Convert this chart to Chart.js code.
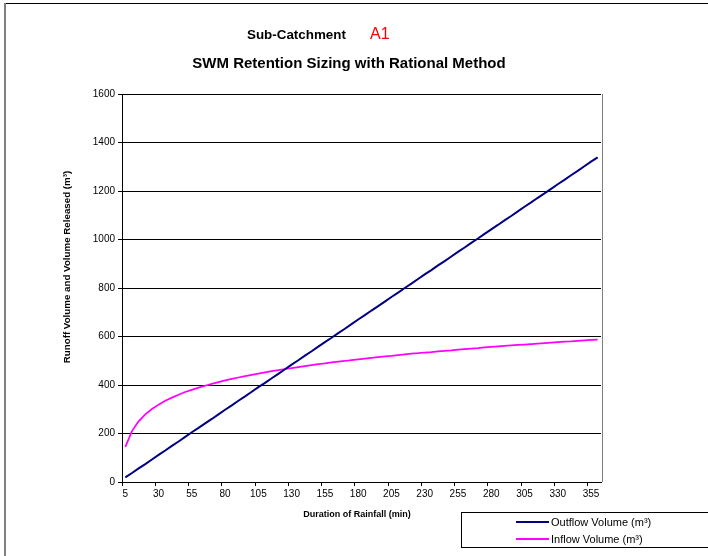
<!DOCTYPE html>
<html>
<head>
<meta charset="utf-8">
<script src="https://cdn.jsdelivr.net/npm/chart.js@4.4.0/dist/chart.umd.min.js"></script>
<style>
  html, body { margin: 0; padding: 0; background: #fff; }
  #wrap { width: 708px; height: 556px; position: relative; }
</style>
</head>
<body>
<div id="wrap"><canvas id="c" width="708" height="556"></canvas></div>
<script>
// Duration of rainfall (min)
const durations = [5,10,15,20,25,30,35,40,45,50,55,60,65,70,75,80,85,90,95,100,
  105,110,115,120,125,130,135,140,145,150,155,160,165,170,175,180,185,190,195,200,
  205,210,215,220,225,230,235,240,245,250,255,260,265,270,275,280,285,290,295,300,
  305,310,315,320,325,330,335,340,345,350,355,360];

// Outflow volume (m³)
const outflowVolume = [19,37,56,74,93,112,130,149,167,186,205,223,242,260,279,298,316,335,353,372,
  391,409,428,446,465,484,502,521,539,558,577,595,614,632,651,670,688,707,725,744,
  763,781,800,818,837,856,874,893,911,930,949,967,986,1004,1023,1042,1060,1079,1097,1116,
  1135,1153,1172,1190,1209,1228,1246,1265,1283,1302,1321,1339];

// Inflow volume (m³)
const inflowVolume = [145,210,250,279,301,319,335,348,360,371,380,389,397,405,412,419,425,431,437,442,
  447,452,457,461,466,470,474,478,482,486,489,493,496,499,503,506,509,512,515,518,
  520,523,526,529,531,534,536,539,541,543,546,548,550,552,555,557,559,561,563,565,
  567,569,571,573,575,577,579,580,582,584,586,587];

const yTicks = [0,200,400,600,800,1000,1200,1400,1600];

const seriesNames = ['Outflow Volume (m³)', 'Inflow Volume (m³)'];
const seriesColors = ['#000080', '#FF00FF'];

const FONT = '"Liberation Sans", Arial, sans-serif';

const decorPlugin = {
  id: 'decor',
  beforeDraw(chart) {
    const ctx = chart.ctx;
    ctx.save();
    ctx.fillStyle = '#fff';
    ctx.fillRect(0, 0, chart.width, chart.height);
    ctx.restore();
  },
  afterDraw(chart) {
    const ctx = chart.ctx;
    const a = chart.chartArea;
    ctx.save();
    // plot area right border (gray)
    ctx.strokeStyle = '#808080';
    ctx.lineWidth = 1;
    ctx.beginPath();
    ctx.moveTo(Math.round(a.right) + 1.5, a.top);
    ctx.lineTo(Math.round(a.right) + 1.5, a.bottom);
    ctx.stroke();

    // outer border (top & left)
    ctx.strokeStyle = '#000';
    ctx.lineWidth = 1;
    ctx.beginPath();
    ctx.moveTo(4, 3.5);
    ctx.lineTo(708, 3.5);
    ctx.stroke();
    ctx.strokeStyle = '#808080';
    ctx.lineWidth = 2;
    ctx.beginPath();
    ctx.moveTo(5, 3);
    ctx.lineTo(5, 556);
    ctx.stroke();

    // Titles
    ctx.fillStyle = '#000';
    ctx.textBaseline = 'middle';
    ctx.textAlign = 'left';
    ctx.font = 'bold 13.4px ' + FONT;
    ctx.fillText('Sub-Catchment', 247, 35.5);
    ctx.fillStyle = '#FF0000';
    ctx.font = '16px ' + FONT;
    ctx.fillText('A1', 370, 35);
    ctx.fillStyle = '#000';
    ctx.textAlign = 'center';
    ctx.font = 'bold 15px ' + FONT;
    ctx.fillText('SWM Retention Sizing with Rational Method', 349, 64);

    // Axis titles
    ctx.font = 'bold 9px ' + FONT;
    ctx.fillText('Duration of Rainfall (min)', 357, 515);
    ctx.save();
    ctx.translate(67, 267);
    ctx.rotate(-Math.PI / 2);
    ctx.font = 'bold 9.75px ' + FONT;
    ctx.fillText('Runoff Volume and Volume Released (m³)', 0, 0);
    ctx.restore();

    // Legend box
    ctx.strokeStyle = '#000';
    ctx.lineWidth = 1;
    ctx.strokeRect(461.5, 512.5, 260, 35);
    ctx.textAlign = 'left';
    ctx.font = '11px ' + FONT;
    const rows = [522, 539];
    for (let i = 0; i < 2; i++) {
      ctx.strokeStyle = seriesColors[i];
      ctx.lineWidth = 2;
      ctx.beginPath();
      ctx.moveTo(516, rows[i]);
      ctx.lineTo(549, rows[i]);
      ctx.stroke();
      ctx.fillStyle = '#000';
      ctx.fillText(seriesNames[i], 551, rows[i] + 0.5);
    }
    ctx.restore();
  }
};

new Chart(document.getElementById('c'), {
  type: 'line',
  data: {
    labels: durations,
    datasets: [
      { label: seriesNames[0], data: outflowVolume, borderColor: seriesColors[0], borderWidth: 2,
        pointRadius: 0, tension: 0, fill: false },
      { label: seriesNames[1], data: inflowVolume, borderColor: seriesColors[1], borderWidth: 1.75,
        pointRadius: 0, tension: 0, fill: false }
    ]
  },
  options: {
    responsive: false,
    animation: false,
    devicePixelRatio: 1,
    layout: { padding: { left: 0, top: 94, right: 107, bottom: 44 } },
    plugins: { legend: { display: false }, title: { display: false }, tooltip: { enabled: false } },
    scales: {
      x: {
        type: 'category',
        offset: true,
        afterFit(scale) { scale.height = 30; },
        border: { display: true, color: '#000', width: 1 },
        grid: {
          offset: true,
          drawOnChartArea: false,
          drawTicks: true,
          tickLength: 4,
          color: (c) => (c.index % 5 === 0 ? '#000' : 'rgba(0,0,0,0)')
        },
        ticks: {
          autoSkip: false,
          maxRotation: 0,
          minRotation: 0,
          padding: 2,
          color: '#000',
          font: { family: FONT, size: 10 },
          callback: (v, i) => (i % 5 === 0 ? String(durations[i]) : '')
        }
      },
      y: {
        min: 0,
        max: 1600,
        afterFit(scale) { scale.width = 122; },
        afterBuildTicks(scale) { scale.ticks = yTicks.map(v => ({ value: v })); },
        border: { display: true, color: '#000', width: 1 },
        grid: {
          color: '#000',
          lineWidth: 1,
          drawTicks: true,
          tickLength: 4
        },
        ticks: {
          padding: 3,
          color: '#000',
          font: { family: FONT, size: 10 },
          callback: (v) => String(v)
        }
      }
    }
  },
  plugins: [decorPlugin]
});
</script>
</body>
</html>
